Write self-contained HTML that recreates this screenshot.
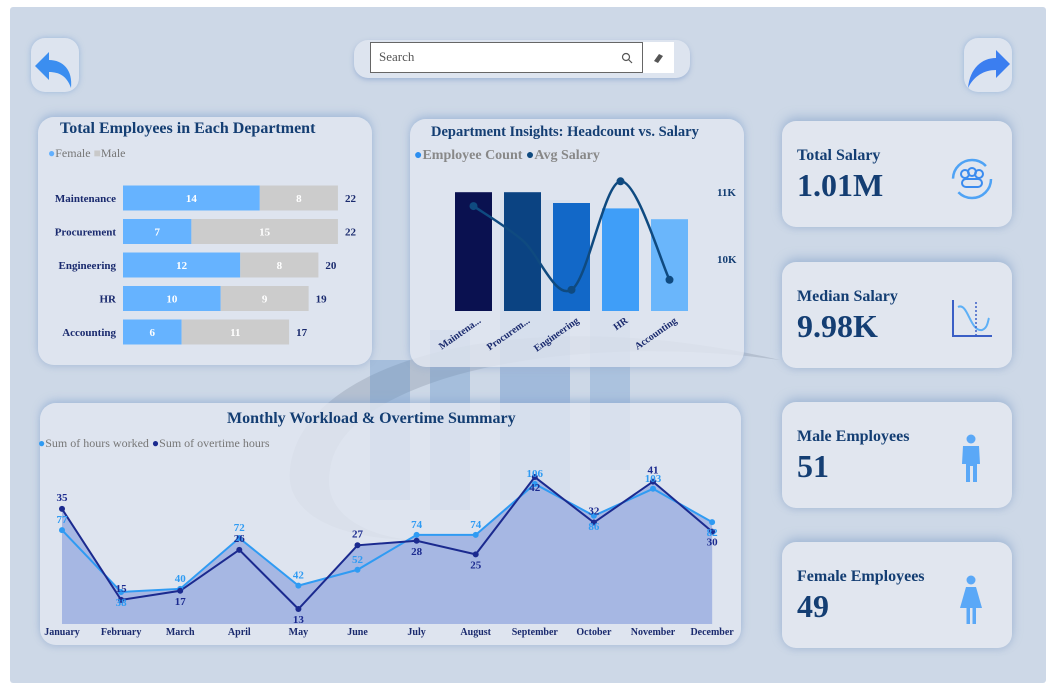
<!DOCTYPE html>
<html><head><meta charset="utf-8">
<style>
*{margin:0;padding:0;box-sizing:border-box}
body{width:1054px;height:691px;background:#fff;font-family:"Liberation Serif","DejaVu Serif",serif;overflow:hidden;position:relative}
.bg{position:absolute;left:10px;top:7px;width:1036px;height:676px;background:#cdd8e7;border-radius:3px}
.panel{position:absolute;background:rgba(226,231,240,0.82);border-radius:16px;box-shadow:0 -3px 8px rgba(140,170,210,.6),0 3px 6px rgba(160,180,210,.4)}
.card{position:absolute;left:782px;width:230px;height:106px;background:#e1e6ef;border-radius:14px;box-shadow:0 -4px 10px rgba(130,160,200,.55),0 3px 6px rgba(160,180,210,.4)}
.card .t{position:absolute;left:15px;top:26px;font-weight:bold;font-size:16px;color:#143e73}
.card .v{position:absolute;left:15px;top:46px;font-weight:bold;font-size:32px;color:#143e73}
.ttl{position:absolute;font-weight:bold;color:#143e73;white-space:nowrap}
svg{position:absolute;left:0;top:0}
</style></head><body>
<div class="bg"></div>
<svg width="1054" height="691">
<path d="M290 470 C 300 360, 520 300, 780 360 C 560 330, 340 380, 330 470 C 320 520,380 540,420 540 C 330 540,285 510,290 470Z" fill="#9aa3b3" opacity="0.45"/>
<rect x="370" y="360" width="40" height="140" fill="#5d8fc9" opacity="0.35"/>
<rect x="430" y="330" width="40" height="180" fill="#5d8fc9" opacity="0.35"/>
<rect x="500" y="200" width="70" height="300" fill="#4f85c5" opacity="0.35"/>
<rect x="590" y="240" width="40" height="230" fill="#5d8fc9" opacity="0.3"/>
</svg>
<div style="position:absolute;left:31px;top:38px;width:48px;height:54px;background:#dde4ef;border-radius:14px;box-shadow:0 0 6px rgba(120,160,210,.6)">
<svg width="48" height="54" style="position:absolute"><path d="M4 28 L18 14 L18 22 C32 22,42 32,40 50 C36 38,28 34,18 34 L18 42Z" fill="#3b8ef0"/></svg></div>
<div style="position:absolute;left:964px;top:38px;width:48px;height:54px;background:#dde4ef;border-radius:14px;box-shadow:0 0 6px rgba(120,160,210,.6)">
<svg width="48" height="54" style="position:absolute"><path d="M46 26 L32 12 L32 20 C18 20,6 30,4 50 C10 38,20 32,32 32 L32 40Z" fill="#3b7ef0"/></svg></div>
<div style="position:absolute;left:354px;top:40px;width:336px;height:38px;background:#dde4ef;border-radius:14px;box-shadow:0 2px 5px rgba(120,150,200,.5)"></div>
<div style="position:absolute;left:370px;top:42px;width:273px;height:31px;background:#fff;border:1px solid #666;font-size:13px;color:#555;padding:6px 8px">Search
<svg width="12" height="12" style="position:absolute;left:250px;top:9px"><circle cx="5" cy="5" r="3.5" fill="none" stroke="#555" stroke-width="1.2"/><line x1="7.5" y1="7.5" x2="11" y2="11" stroke="#555" stroke-width="1.2"/></svg></div>
<div style="position:absolute;left:643px;top:42px;width:31px;height:31px;background:#fff">
<svg width="31" height="31" style="position:absolute"><path d="M11 19 L16 12 L20 14 L15 21Z" fill="#555"/></svg></div>

<div class="panel" style="left:38px;top:117px;width:334px;height:248px"></div>
<div class="panel" style="left:410px;top:119px;width:334px;height:248px"></div>
<div class="panel" style="left:40px;top:403px;width:701px;height:242px"></div>

<div class="ttl" style="left:60px;top:120px;font-size:16px">Total Employees in Each Department</div>
<div style="position:absolute;left:48px;top:146px;font-size:12px;color:#777"><span style="color:#62b0ff">●</span>Female <span style="color:#c9c9c9">■</span>Male</div>
<div class="ttl" style="left:431px;top:124px;font-size:14.5px">Department Insights: Headcount vs. Salary</div>
<div style="position:absolute;left:414px;top:148px;font-size:14px;color:#888;font-weight:bold"><span style="color:#2b8ef0">●</span>Employee Count <span style="color:#0f4a80">●</span>Avg Salary</div>
<div class="ttl" style="left:227px;top:410px;font-size:16px">Monthly Workload &amp; Overtime Summary</div>
<div style="position:absolute;left:38px;top:436px;font-size:12px;color:#777"><span style="color:#2f9bf3">●</span>Sum of hours worked <span style="color:#1b2a8f">●</span>Sum of overtime hours</div>

<div class="card" style="top:121px"><div class="t">Total Salary</div><div class="v">1.01M</div>
<svg width="230" height="106"><circle cx="190" cy="58" r="19" fill="none" stroke="#4fa3f5" stroke-width="2.5" stroke-dasharray="45 15"/><circle cx="183" cy="53" r="4" fill="none" stroke="#3a8bef" stroke-width="2"/><circle cx="190" cy="51" r="4" fill="none" stroke="#3a8bef" stroke-width="2"/><circle cx="197" cy="53" r="4" fill="none" stroke="#3a8bef" stroke-width="2"/><rect x="180" y="58" width="20" height="8" rx="4" fill="none" stroke="#3a8bef" stroke-width="2"/></svg></div>
<div class="card" style="top:262px"><div class="t">Median Salary</div><div class="v">9.98K</div>
<svg width="230" height="106"><path d="M171 38 V74 H210" fill="none" stroke="#3b5fc6" stroke-width="2"/><path d="M176 45 C186 40,188 70,200 68 C206 66,206 58,207 56" fill="none" stroke="#5eb0f6" stroke-width="2"/><line x1="194" y1="40" x2="194" y2="74" stroke="#3b5fc6" stroke-width="1.5" stroke-dasharray="2 2"/></svg></div>
<div class="card" style="top:402px"><div class="t">Male Employees</div><div class="v">51</div>
<svg width="230" height="106"><circle cx="189" cy="37" r="4.5" fill="#5aa8f7"/><path d="M181 44 H197 L198 62 H195 V80 H191 V64 H188 V80 H184 V62 H180Z" fill="#5aa8f7"/></svg></div>
<div class="card" style="top:542px"><div class="t">Female Employees</div><div class="v">49</div>
<svg width="230" height="106"><circle cx="189" cy="38" r="4.5" fill="#5aa8f7"/><path d="M184 45 H194 L200 66 H194 V82 H190.5 V66 H188 V82 H184.5 V66 H178Z" fill="#5aa8f7"/></svg></div>

<svg id="charts" width="1054" height="691"></svg>
<script>
const depts=["Maintenance","Procurement","Engineering","HR","Accounting"];
const female=[14,7,12,10,6];
const male=[8,15,8,9,11];
const deptShort=["Maintena...","Procurem...","Engineering","HR","Accounting"];
const headcount=[22,22,20,19,17];
const avgSalary=[10790,10280,9540,11160,9690];
const salaryTicks=[10000,11000];
const salaryTickLabels=["10K","11K"];
const months=["January","February","March","April","May","June","July","August","September","October","November","December"];
const hours=[77,38,40,72,42,52,74,74,106,86,103,82];
const overtime=[35,15,17,26,13,27,28,25,42,32,41,30];
// label placement: 1 = above point, -1 = below point
const hoursLabelSide=[1,-1,1,1,1,1,1,1,1,-1,1,-1];
const overtimeLabelSide=[1,1,-1,1,-1,1,-1,-1,-1,1,1,-1];

const NS="http://www.w3.org/2000/svg";
const svg=document.getElementById('charts');
function mk(tag,attrs,txt){const e=document.createElementNS(NS,tag);for(const k in attrs)e.setAttribute(k,attrs[k]);if(txt!==undefined)e.textContent=txt;svg.appendChild(e);return e;}

// Chart 1
const bx=u=>123+u*9.77;
const by=i=>198+i*33.5;
depts.forEach((d,i)=>{
  const y=by(i);
  let t=mk('text',{x:116,y:y+4,'text-anchor':'end','font-size':11,'font-weight':'bold',fill:'#1a2a6e'},d);
  
  let r=mk('rect',{x:bx(0),y:y-12.5,width:bx(female[i])-bx(0),height:25,fill:'#66b3ff'});
  
  let r2=mk('rect',{x:bx(female[i]),y:y-12.5,width:bx(female[i]+male[i])-bx(female[i]),height:25,fill:'#cccccc'});
  
  let a=mk('text',{x:(bx(0)+bx(female[i]))/2,y:y+4,'text-anchor':'middle','font-size':11,'font-weight':'bold',fill:'#fff'},female[i]);
  
  let b=mk('text',{x:(bx(female[i])+bx(female[i]+male[i]))/2,y:y+4,'text-anchor':'middle','font-size':11,'font-weight':'bold',fill:'#fff'},male[i]);
  
  let c=mk('text',{x:bx(female[i]+male[i])+7,y:y+4,'font-size':11,'font-weight':'bold',fill:'#1a2a6e'},female[i]+male[i]);
  
});

// Chart 2
const colors=['#0a1150','#0b4382','#1268c8','#3f9ef8','#6ab6fb'];
const cy=v=>311-v*5.4;
const sy=v=>259-(v-10000)*0.067;
const cx=i=>473.5+i*49;
headcount.forEach((v,i)=>{
  let r=mk('rect',{x:cx(i)-18.5,y:cy(v),width:37,height:cy(0)-cy(v),fill:colors[i]});
  
  let t=mk('text',{x:cx(i)+8,y:322,'text-anchor':'end','font-size':10,'font-weight':'bold',fill:'#1a2a6e',transform:`rotate(-35 ${cx(i)+8} 322)`},deptShort[i]);
  
});
salaryTicks.forEach((v,i)=>{
  let t=mk('text',{x:717,y:sy(v)+4,'font-size':11,'font-weight':'bold',fill:'#143e73'},salaryTickLabels[i]);
  
});
const pts=avgSalary.map((v,i)=>[cx(i),sy(v)]);
let d=`M${pts[0][0]},${pts[0][1]}`;
for(let i=0;i<pts.length-1;i++){
  const p0=pts[Math.max(0,i-1)],p1=pts[i],p2=pts[i+1],p3=pts[Math.min(pts.length-1,i+2)];
  const c1=[p1[0]+(p2[0]-p0[0])/6,p1[1]+(p2[1]-p0[1])/6],c2=[p2[0]-(p3[0]-p1[0])/6,p2[1]-(p3[1]-p1[1])/6];
  d+=` C${c1[0]},${c1[1]} ${c2[0]},${c2[1]} ${p2[0]},${p2[1]}`;
}
let sl=mk('path',{d:d,fill:'none',stroke:'#0f4a80','stroke-width':2.5});

pts.forEach((p,i)=>{if(i===1)return;let c=mk('circle',{cx:p[0],cy:p[1],r:4,fill:'#0f4a80'});
  });

// Chart 3
const mx=i=>62+i*59.1;
const hy=v=>592-(v-38)*1.588;
const oy=v=>609-(v-13)*4.55;
const base=624;
function areaPath(arr,f){let s=`M${mx(0)},${base}`;arr.forEach((v,i)=>s+=` L${mx(i)},${f(v)}`);return s+` L${mx(arr.length-1)},${base}Z`;}
let a1=mk('path',{d:areaPath(hours,hy),fill:'#a6b7e3'});
let a2=mk('path',{d:areaPath(overtime,oy),fill:'#a6b7e3'});
let l1=mk('polyline',{points:hours.map((v,i)=>mx(i)+','+hy(v)).join(' '),fill:'none',stroke:'#2f9bf3','stroke-width':2});

let l2=mk('polyline',{points:overtime.map((v,i)=>mx(i)+','+oy(v)).join(' '),fill:'none',stroke:'#1b2a8f','stroke-width':2});

months.forEach((m,i)=>{
  let c=mk('circle',{cx:mx(i),cy:hy(hours[i]),r:3,fill:'#2f9bf3'});
  let c2=mk('circle',{cx:mx(i),cy:oy(overtime[i]),r:3,fill:'#1b2a8f'});
  let t=mk('text',{x:mx(i),y:hy(hours[i])+(hoursLabelSide[i]>0?-7:14),'text-anchor':'middle','font-size':11,'font-weight':'bold',fill:'#2f9bf3'},hours[i]);
  
  let t2=mk('text',{x:mx(i),y:oy(overtime[i])+(overtimeLabelSide[i]>0?-8:14),'text-anchor':'middle','font-size':11,'font-weight':'bold',fill:'#1b2a8f'},overtime[i]);
  
  let ml=mk('text',{x:mx(i),y:635,'text-anchor':'middle','font-size':10,'font-weight':'bold',fill:'#1a2a6e'},m);
  
});
</script>
</body></html>
